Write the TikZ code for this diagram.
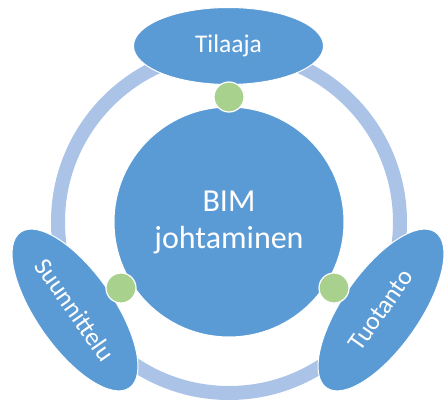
\documentclass[tikz,border=0pt]{standalone}
\usepackage{fontspec}
\setmainfont{Carlito}
\usetikzlibrary{shapes.geometric}
\definecolor{blu}{HTML}{5B9BD5}
\definecolor{ringc}{HTML}{AAC3E6}
\definecolor{grn}{HTML}{A9D18E}
\begin{document}
\begin{tikzpicture}[x=1pt,y=1pt,
  petal/.style={ellipse, fill=blu, draw=white, line width=1pt, inner sep=0pt,
    minimum width=190pt, minimum height=77pt, text=white, font=\fontsize{25.5}{30}\selectfont},
  hub/.style={circle, fill=blu, draw=white, line width=1pt, inner sep=0pt,
    minimum size=230pt, text=white, align=center, font=\fontsize{32}{37}\selectfont},
  dot/.style={circle, fill=grn, draw=white, line width=1.2pt, inner sep=0pt, minimum size=30pt}]
\useasboundingbox (0,0) rectangle (444,400);
\coordinate (c) at (229,178);
\draw[ringc, line width=14pt] (c) circle[radius=171pt];
\node[hub] (hub) at (c) {BIM\\johtaminen};
\node[petal] (til) at (228.5,354) {Tilaaja};
\node[petal, rotate=-55] (suu) at (75,90) {Suunnittelu};
\node[petal, rotate=55] (tuo) at (381,90) {Tuotanto};
\node[dot] (d1) at (229,303) {};
\node[dot] (d2) at (121,112) {};
\node[dot] (d3) at (334,112) {};
\end{tikzpicture}
\end{document}
